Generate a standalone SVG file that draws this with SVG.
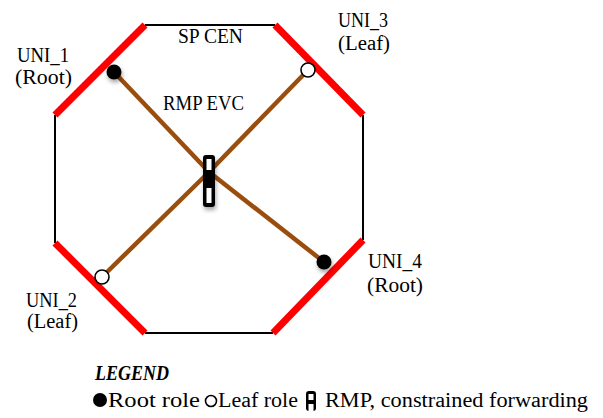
<svg xmlns="http://www.w3.org/2000/svg" width="603" height="418" viewBox="0 0 603 418">
<defs>
<style>
.t{font-family:"Liberation Serif","Times New Roman",serif;font-size:20px;fill:#000}
.b{fill:none;stroke:#000;stroke-width:2}
.r{fill:none;stroke:#ff0000;stroke-width:7}
.c{fill:none;stroke:#9a4e0e;stroke-width:4.5;stroke-linecap:butt}
.root{fill:#000}
.leaf{fill:#fff;stroke:#000;stroke-width:1.6}
</style>
<filter id="sh" x="-50%" y="-50%" width="200%" height="200%">
<feDropShadow dx="1" dy="3" stdDeviation="2" flood-color="#000" flood-opacity="0.35"/>
</filter>
</defs>
<rect width="603" height="418" fill="#fff"/>
<g id="sp-cen">
<line class="b" x1="145" y1="25" x2="275" y2="25"/>
<line class="b" x1="363" y1="115" x2="363" y2="240"/>
<line class="b" x1="145" y1="333" x2="273" y2="333"/>
<line class="b" x1="55" y1="115" x2="55" y2="243"/>
<line class="r" x1="145" y1="25" x2="55" y2="115"/>
<line class="r" x1="275" y1="25" x2="363" y2="115"/>
<line class="r" x1="363" y1="240" x2="273" y2="333"/>
<line class="r" x1="55" y1="243" x2="145" y2="333"/>
<text class="t" x="178" y="43" textLength="65" lengthAdjust="spacingAndGlyphs">SP CEN</text>
<text class="t" x="163" y="110" textLength="81" lengthAdjust="spacingAndGlyphs">RMP EVC</text>
</g>
<g id="connectors">
<line class="c" x1="114" y1="72" x2="209" y2="172"/>
<line class="c" x1="308" y1="70" x2="209" y2="172"/>
<line class="c" x1="102" y1="277" x2="209" y2="172"/>
<line class="c" x1="324" y1="262" x2="209" y2="172"/>
</g>
<g id="rmp">
<rect x="203" y="155" width="12" height="52" rx="3" fill="#000" filter="url(#sh)"/>
<rect x="206.5" y="159" width="5" height="11" fill="#fff"/>
<rect x="206.5" y="188" width="5" height="15" fill="#fff"/>
</g>
<g id="uni1">
<circle class="root" cx="114" cy="72" r="7.5" filter="url(#sh)"/>
<text class="t" x="17" y="62" textLength="52" lengthAdjust="spacingAndGlyphs">UNI_1</text>
<text class="t" x="15" y="84" textLength="57" lengthAdjust="spacingAndGlyphs">(Root)</text>
</g>
<g id="uni3">
<circle class="leaf" cx="308" cy="70" r="7"/>
<text class="t" x="338" y="27" textLength="50" lengthAdjust="spacingAndGlyphs">UNI_3</text>
<text class="t" x="338" y="50" textLength="52" lengthAdjust="spacingAndGlyphs">(Leaf)</text>
</g>
<g id="uni2">
<circle class="leaf" cx="102" cy="277" r="7"/>
<text class="t" x="26" y="307" textLength="51" lengthAdjust="spacingAndGlyphs">UNI_2</text>
<text class="t" x="27" y="328" textLength="51" lengthAdjust="spacingAndGlyphs">(Leaf)</text>
</g>
<g id="uni4">
<circle class="root" cx="324" cy="262" r="7.5" filter="url(#sh)"/>
<text class="t" x="368" y="268" textLength="54" lengthAdjust="spacingAndGlyphs">UNI_4</text>
<text class="t" x="367" y="292" textLength="56" lengthAdjust="spacingAndGlyphs">(Root)</text>
</g>
<g id="legend">
<text class="t" x="95" y="380" font-weight="bold" font-style="italic" textLength="74" lengthAdjust="spacingAndGlyphs">LEGEND</text>
<circle class="root" cx="100" cy="400" r="7"/>
<text class="t" x="108" y="407" textLength="92" lengthAdjust="spacingAndGlyphs">Root role</text>
<circle class="leaf" cx="211" cy="401" r="5.5"/>
<text class="t" x="218" y="407" textLength="80" lengthAdjust="spacingAndGlyphs">Leaf role</text>
<rect x="306" y="391" width="10" height="20" rx="3" fill="#000"/>
<rect x="308.5" y="394" width="5" height="6" fill="#fff"/>
<rect x="308.5" y="404" width="5" height="8" fill="#fff"/>
<text class="t" x="325" y="407" textLength="263" lengthAdjust="spacingAndGlyphs">RMP, constrained forwarding</text>
</g>
</svg>
